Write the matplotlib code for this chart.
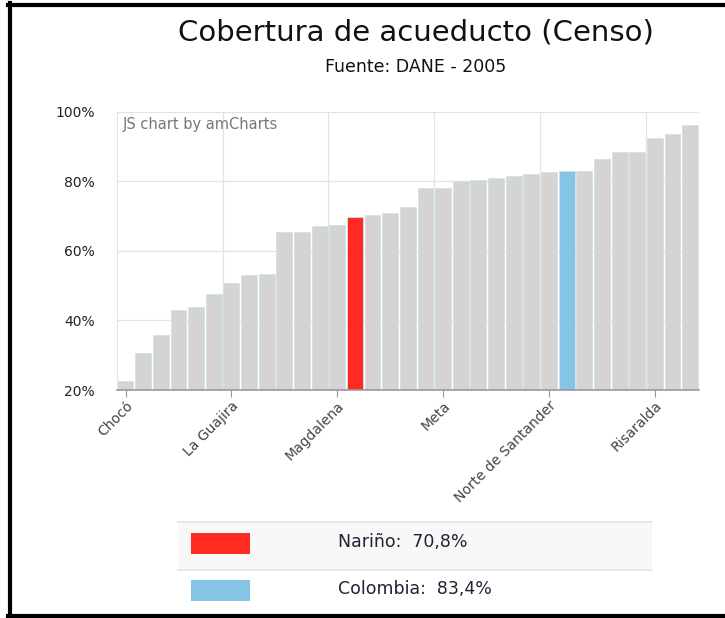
import matplotlib
matplotlib.use("Agg")
import matplotlib.pyplot as plt
from matplotlib.patches import Rectangle
from matplotlib.lines import Line2D
import numpy as np

# departamentos ordenados por cobertura (solo algunos nombres se ven en el eje)
departamentos = ["Chocó", "Vaupés", "Guainía", "Vichada", "Amazonas", "Guaviare",
                 "La Guajira", "Córdoba", "Putumayo", "Caquetá", "Cauca", "Bolívar",
                 "Magdalena", "Nariño", "Sucre", "Cesar", "Arauca", "Casanare",
                 "Meta", "Boyacá", "Tolima", "Huila", "Santander", "San Andrés",
                 "Norte de Santander", "Colombia", "Antioquia", "Cundinamarca",
                 "Caldas", "Atlántico", "Risaralda", "Valle del Cauca", "Quindío"]
cobertura = [22.7, 30.5, 35.7, 43.1, 43.8, 47.5, 50.9, 53.0, 53.4, 65.4, 65.4, 67.0,
             67.3, 69.7, 70.2, 70.8, 72.7, 78.0, 78.0, 80.1, 80.4, 81.0, 81.4, 82.1,
             82.6, 82.9, 82.9, 86.4, 88.3, 88.3, 92.5, 93.6, 96.2]
etiquetas_visibles = ["Chocó", "La Guajira", "Magdalena", "Meta", "Norte de Santander", "Risaralda"]
y_ticks = [20, 40, 60, 80, 100]

destacados = {"Nariño": "#ff2b22", "Colombia": "#86c4e6"}
leyenda = [("Nariño", "70,8%"), ("Colombia", "83,4%")]

W, H = 725, 618
fig = plt.figure(figsize=(W / 100, H / 100), dpi=100)

ax = fig.add_axes([116.7 / W, 1 - 390 / H, 582.3 / W, 278.3 / H])

x = np.arange(len(departamentos))
colores = [destacados.get(d, "#d4d4d4") for d in departamentos]
ax.bar(x, cobertura, width=0.9, bottom=0, color=colores, edgecolor="#cfe2ea",
       linewidth=0.6, zorder=2)

ax.set_xlim(-0.5, len(departamentos) - 0.5)
ax.set_ylim(20, 100)

# cuadrícula
for yv in y_ticks[1:]:
    ax.axhline(yv, color="#e3e3e3", lw=0.9, zorder=1)
idx = [departamentos.index(n) for n in etiquetas_visibles]
for i in idx[1:]:
    ax.axvline(i - 0.5, color="#e3e3e3", lw=0.9, zorder=1)

ax.set_yticks(y_ticks)
ax.set_yticklabels([f"{v}%" for v in y_ticks], fontsize=10, color="#222222")
ax.tick_params(axis="y", length=0, pad=16)
ax.set_xticks(idx)
ax.set_xticklabels(etiquetas_visibles, rotation=45, ha="right", rotation_mode="anchor",
                   fontsize=10, color="#444444")
ax.tick_params(axis="x", length=5, color="#999999", pad=1)

for s in ["top", "right"]:
    ax.spines[s].set_visible(False)
ax.spines["left"].set_color("#e3e3e3")
ax.spines["bottom"].set_color("#999999")
ax.spines["bottom"].set_linewidth(1.2)

ax.text(0.01, 0.955, "JS chart by amCharts", transform=ax.transAxes, fontsize=10.5,
        color="#777777", va="center", ha="left")

# títulos
fig.text(416 / W, 1 - 32 / H, "Cobertura de acueducto (Censo)", fontsize=21,
         family="DejaVu Sans", ha="center", va="center", color="#111111")
fig.text(416 / W, 1 - 67 / H, "Fuente: DANE - 2005", fontsize=12.5,
         family="DejaVu Sans", ha="center", va="center", color="#111111")

# leyenda tipo tabla
fig.add_artist(Rectangle((178 / W, 1 - 570 / H), 474 / W, 48 / H,
                         transform=fig.transFigure, facecolor="#f8f8f8", edgecolor="none"))
for yp in [522, 570]:
    fig.add_artist(Line2D([178 / W, 652 / W], [1 - yp / H, 1 - yp / H],
                          transform=fig.transFigure, color="#e4e4e4", lw=1.2))
filas_y = [543, 590.5]
for (nombre, valor), yc in zip(leyenda, filas_y):
    fig.add_artist(Rectangle((190.5 / W, 1 - (yc + 10.5) / H), 59.5 / W, 21 / H,
                             transform=fig.transFigure, facecolor=destacados[nombre],
                             edgecolor="none"))
    fig.text(338 / W, 1 - (yc - 1) / H, f"{nombre}:  {valor}", fontsize=12.5,
             family="DejaVu Sans", ha="left", va="center", color="#1d2333")

# marco negro de la captura
for xs, ys in [([10 / W, 10 / W], [0, 1 - 3 / H]),
               ([8 / W, 1], [1 - 5 / H, 1 - 5 / H]),
               ([8 / W, 1], [1 - 616 / H, 1 - 616 / H])]:
    fig.add_artist(Line2D(xs, ys, transform=fig.transFigure, color="black", lw=3))

fig.savefig("out.png", dpi=100)
